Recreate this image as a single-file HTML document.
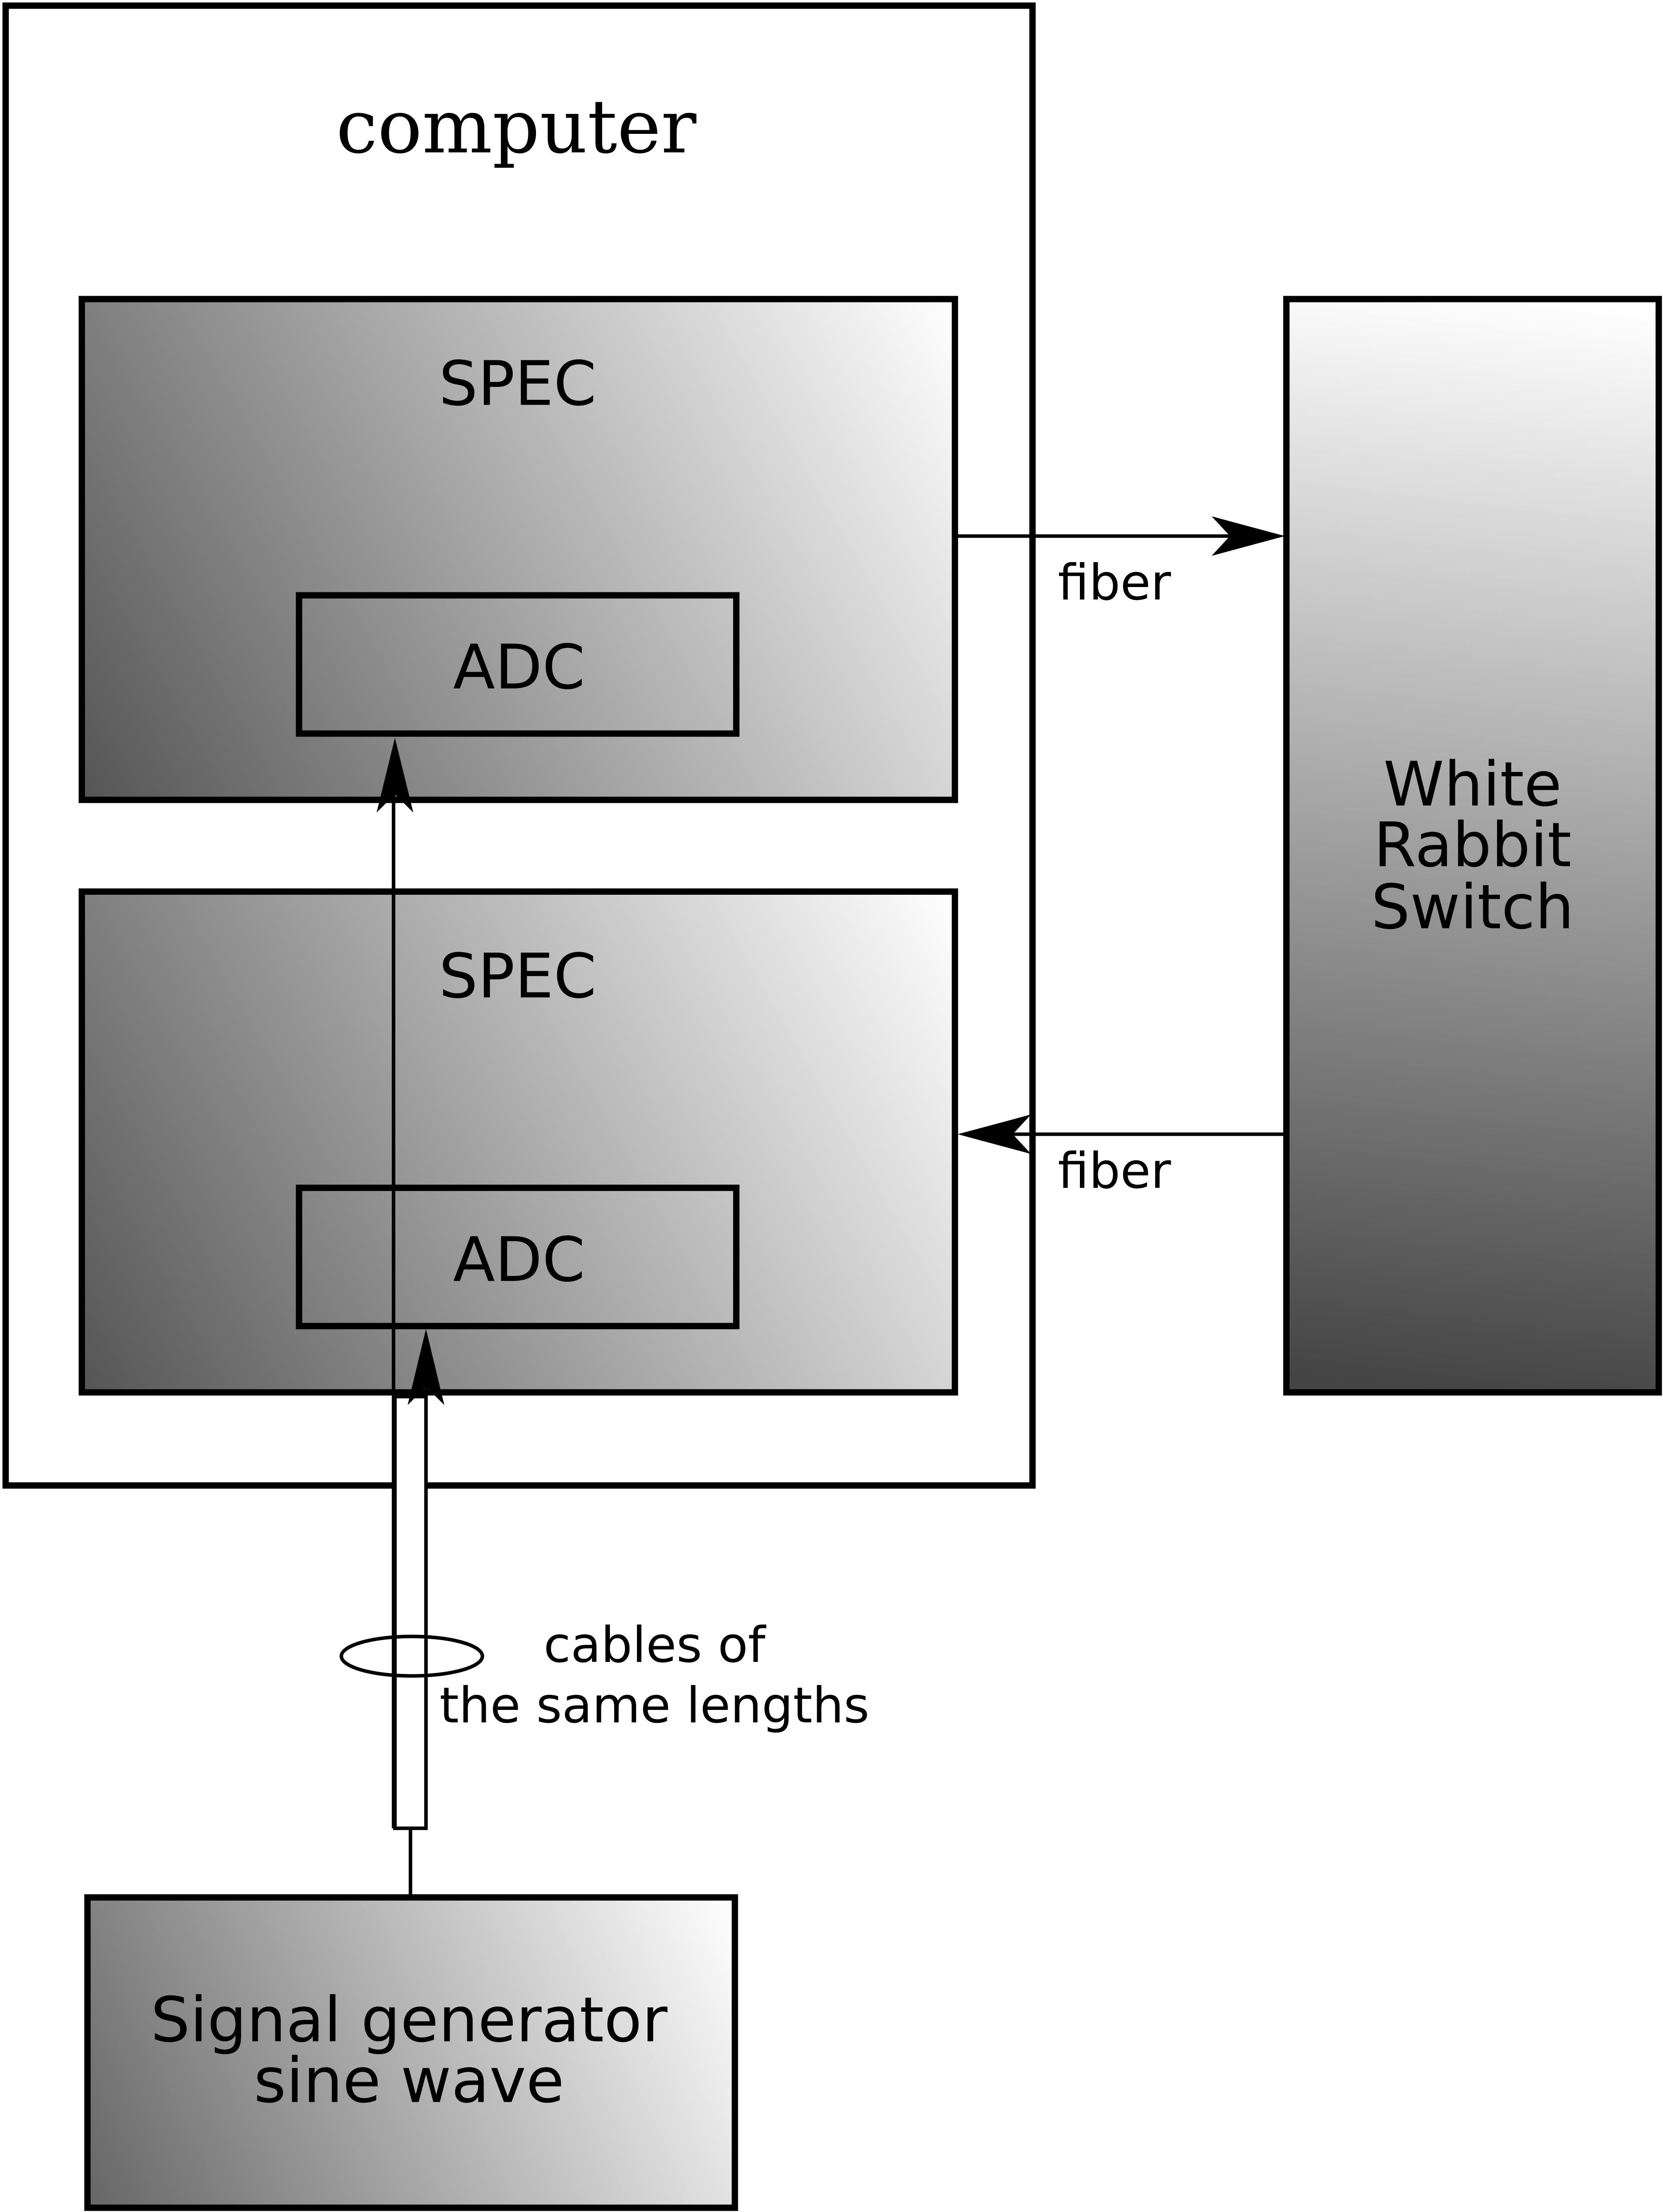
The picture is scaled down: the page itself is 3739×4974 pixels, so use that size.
<!DOCTYPE html>
<html><head><meta charset="utf-8"><style>html,body{margin:0;padding:0;background:#fff}svg{display:block}</style></head>
<body>
<svg width="3739" height="4974" viewBox="0 0 1179 1568" preserveAspectRatio="none" xmlns="http://www.w3.org/2000/svg">
<defs>
<linearGradient id="s1" gradientUnits="userSpaceOnUse" x1="58" y1="567" x2="677" y2="212">
<stop offset="0" stop-color="#555"/><stop offset="1" stop-color="#fff"/>
</linearGradient>
<linearGradient id="s2" gradientUnits="userSpaceOnUse" x1="58" y1="987" x2="677" y2="632">
<stop offset="0" stop-color="#555"/><stop offset="1" stop-color="#fff"/>
</linearGradient>
<linearGradient id="sg" gradientUnits="userSpaceOnUse" x1="62" y1="1565" x2="521" y2="1345">
<stop offset="0" stop-color="#666"/><stop offset="1" stop-color="#fff"/>
</linearGradient>
<linearGradient id="wr" gradientUnits="userSpaceOnUse" x1="1020" y1="987" x2="1110" y2="212">
<stop offset="0" stop-color="#444"/><stop offset="1" stop-color="#fff"/>
</linearGradient>
</defs>
<rect x="0" y="0" width="1179" height="1568" fill="#fff"/>
<rect x="4" y="4" width="728" height="1049" fill="#fff" stroke="#000" stroke-width="4.5"/>
<text x="366" y="108" font-family="DejaVu Serif, Liberation Serif, serif" font-size="52.5" text-anchor="middle">computer</text>

<rect x="58" y="212" width="619" height="355" fill="url(#s1)" stroke="#000" stroke-width="4.5"/>
<text x="367" y="287" font-family="DejaVu Sans, Liberation Sans, sans-serif" font-size="43.5" text-anchor="middle">SPEC</text>
<rect x="212" y="422" width="310" height="98" fill="none" stroke="#000" stroke-width="4.5"/>
<text x="368" y="488" font-family="DejaVu Sans, Liberation Sans, sans-serif" font-size="43.5" text-anchor="middle">ADC</text>

<rect x="58" y="632" width="619" height="355" fill="url(#s2)" stroke="#000" stroke-width="4.5"/>
<text x="367" y="707" font-family="DejaVu Sans, Liberation Sans, sans-serif" font-size="43.5" text-anchor="middle">SPEC</text>
<rect x="212" y="842" width="310" height="98" fill="none" stroke="#000" stroke-width="4.5"/>
<text x="368" y="908" font-family="DejaVu Sans, Liberation Sans, sans-serif" font-size="43.5" text-anchor="middle">ADC</text>

<rect x="912" y="212" width="264" height="775" fill="url(#wr)" stroke="#000" stroke-width="4.5"/>
<g font-family="DejaVu Sans, Liberation Sans, sans-serif" font-size="43.5" text-anchor="middle">
<text x="1044" y="571">White</text><text x="1044" y="614">Rabbit</text><text x="1044" y="658">Switch</text>
</g>

<line x1="677" y1="380" x2="880" y2="380" stroke="#000" stroke-width="2.5"/>
<path d="M911,380 L859,366 L872,380 L859,394 Z" fill="#000"/>
<text x="750" y="425" font-family="DejaVu Sans, Liberation Sans, sans-serif" font-size="35">fiber</text>

<line x1="912" y1="804" x2="710" y2="804" stroke="#000" stroke-width="2.5"/>
<path d="M679,804 L731,790 L718,804 L731,818 Z" fill="#000"/>
<text x="750" y="842" font-family="DejaVu Sans, Liberation Sans, sans-serif" font-size="35">fiber</text>

<line x1="279" y1="1296" x2="279" y2="560" stroke="#000" stroke-width="2.5"/>
<path d="M280,523 L267,576 L280,563 L293,576 Z" fill="#000"/>
<rect x="280" y="990" width="22" height="306" fill="#fff" stroke="#000" stroke-width="2.5"/>
<line x1="302" y1="990" x2="302" y2="975" stroke="#000" stroke-width="2.5"/>
<path d="M302,942 L289,996 L302,983 L315,996 Z" fill="#000"/>
<line x1="291" y1="1296" x2="291" y2="1345" stroke="#000" stroke-width="2.5"/>
<ellipse cx="292" cy="1174" rx="50" ry="14" fill="none" stroke="#000" stroke-width="2.5"/>
<g font-family="DejaVu Sans, Liberation Sans, sans-serif" font-size="35" text-anchor="middle">
<text x="464" y="1178">cables of</text><text x="464" y="1221">the same lengths</text>
</g>

<rect x="62" y="1345" width="459" height="220" fill="url(#sg)" stroke="#000" stroke-width="4.5"/>
<g font-family="DejaVu Sans, Liberation Sans, sans-serif" font-size="44" text-anchor="middle">
<text x="290" y="1447">Signal generator</text><text x="290" y="1490">sine wave</text>
</g>
</svg>
</body></html>
